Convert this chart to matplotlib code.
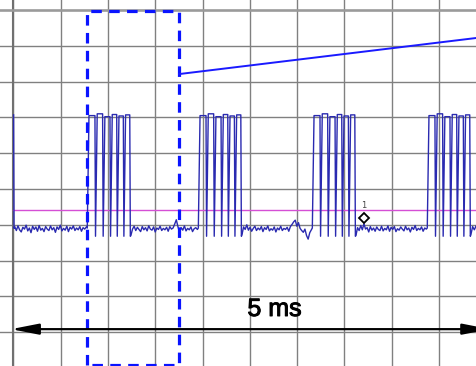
"""Scope capture: periodic pulse bursts, zoom window and 5 ms span marker."""
import numpy as np
import matplotlib
matplotlib.use("Agg")
import matplotlib.pyplot as plt
import matplotlib.patheffects as pe

# time axis in ms (0.5 ms/div), amplitude in divisions
burst_starts = [0.782, 1.956, 3.161, 4.376]
dip_offsets = [0.081, 0.162, 0.240, 0.311, 0.381]
burst_end = 0.449
pulse_tops = [7.05, 7.10, 7.02, 7.08, 7.04, 7.07]
dip_low = 3.68
baseline = 3.91

gap0 = [3.95, 3.84, 3.97, 3.86, 3.80, 3.93, 3.88, 3.99, 3.83, 3.91, 3.78, 3.96,
        3.87, 3.94, 3.82, 3.98, 3.85, 3.90, 3.81, 3.95, 3.88, 3.84, 3.97, 3.86,
        3.92, 3.79, 3.94, 3.87, 3.99, 3.83, 3.90, 3.85, 3.96, 3.81, 3.93, 3.88,
        3.97, 3.84, 3.91, 3.86, 3.95, 3.82, 3.92, 3.88, 3.94]
gap1 = [3.70, 3.88, 3.96, 3.84, 3.93, 3.87, 3.81, 3.95, 3.86, 3.92, 3.83, 3.97,
        3.88, 3.85, 3.94, 3.80, 3.91, 3.87, 3.96, 3.84, 3.90, 3.86, 3.93, 3.82,
        3.95, 3.88, 3.91, 4.02, 4.14, 3.95, 3.78, 3.92, 3.85, 3.97, 3.83, 3.90,
        3.86, 3.94, 3.81, 3.89, 3.92, 3.87]
gap2 = [3.72, 3.94, 3.87, 4.00, 3.85, 3.93, 3.82, 3.90, 3.96, 3.84, 3.91, 3.86,
        3.95, 3.81, 3.92, 3.87, 3.97, 3.83, 3.89, 3.85, 3.94, 3.80, 3.91, 3.86,
        3.96, 3.84, 3.90, 3.87, 3.93, 3.82, 3.95, 4.01, 4.08, 4.13, 3.96, 4.06,
        3.90, 3.84, 3.79, 3.88, 3.70, 3.60, 3.78, 3.86]
gap3 = [3.70, 3.92, 3.84, 3.98, 3.86, 4.03, 3.88, 3.92, 3.80, 3.95, 3.85, 3.91,
        3.82, 3.94, 3.87, 3.84, 3.96, 3.83, 3.90, 3.86, 3.97, 3.82, 3.93, 3.87,
        3.95, 3.81, 3.89, 3.85, 3.94, 3.88, 3.83, 3.96, 3.86, 3.91, 3.80, 3.93,
        3.87, 3.98, 3.84, 3.90, 3.86, 3.94, 3.82, 3.91, 3.88]
gap4 = [3.72, 3.95, 3.86, 3.97, 3.90]
gaps = [gap0, gap1, gap2, gap3, gap4]

trigger_level = 4.41
marker_t, marker_v = 3.707, 4.19
zoom_box = (0.779, 1.752, 0.08, 9.97)   # t0, t1, v0, v1
zoom_line_t = [1.752, 4.90]
zoom_line_v = [8.21, 9.22]
span_t = [-0.024, 5.04]
span_v = 1.085
span_label = "5 ms"

# ---------- assemble trace ----------
ts, vs = [0.003, 0.008], [7.07, 3.90]
gap_edges = [0.015] + [b + burst_end + 0.012 for b in burst_starts]
gap_ends = [b - 0.01 for b in burst_starts] + [4.91]
for i, g in enumerate(gaps):
    ts += list(np.linspace(gap_edges[i], gap_ends[i], len(g)))
    vs += g
    if i < len(burst_starts):
        t0 = burst_starts[i]
        ts += [t0, t0 + 0.018]
        vs += [baseline, pulse_tops[0]]
        for k, d in enumerate(dip_offsets):
            ts += [t0 + d, t0 + d + 0.006, t0 + d + 0.024]
            vs += [pulse_tops[k], dip_low, pulse_tops[k + 1]]
        ts += [t0 + burst_end, t0 + burst_end + 0.006]
        vs += [pulse_tops[-1], dip_low]

fig = plt.figure(figsize=(4.77, 3.66), dpi=100)
ax = fig.add_axes([0, 0, 1, 1])
ax.set_xlim(-0.1406, 4.9017)
ax.set_ylim(0.056, 10.279)
for s in ax.spines.values():
    s.set_visible(False)
ax.set_xticks(np.arange(0, 4.9, 0.5))
ax.set_yticks(range(1, 11))
ax.tick_params(length=0, labelbottom=False, labelleft=False)
ax.grid(True, color="#808080", lw=1.0)
ax.axvline(0, color="#707070", lw=1.5)
ax.axhline(10, color="#9a9a9a", lw=1.8)

ax.plot([0, 4.95], [trigger_level] * 2, color="#d54fd5", lw=1.0)
ax.plot(ts, vs, color="#2a2ab0", lw=1.0)

ax.plot(marker_t, marker_v, marker="D", ms=5.5, mfc="white", mec="black", mew=1.3)
ax.text(marker_t, marker_v + 0.22, "1", fontsize=6, color="#444444",
        ha="center", va="bottom")

t0, t1, v0, v1 = zoom_box
ax.plot([t0, t0, t1, t1, t0], [v0, v1, v1, v0, v0], color="#0a14ff", lw=2.3,
        ls=(0, (3.3, 2.3)))
ax.plot(zoom_line_t, zoom_line_v, color="#1a1aff", lw=1.4)

ax.annotate("", xy=(span_t[0], span_v), xytext=(span_t[1], span_v),
            arrowprops=dict(arrowstyle="<|-|>,head_length=0.92,head_width=0.18",
                            mutation_scale=18, color="black", lw=1.6,
                            shrinkA=0, shrinkB=0))
ax.text(2.761, 1.453, span_label, fontsize=18, family="Liberation Sans",
        ha="center", va="baseline",
        path_effects=[pe.withStroke(linewidth=0.7, foreground="black")])

fig.savefig("out.png", dpi=100)
